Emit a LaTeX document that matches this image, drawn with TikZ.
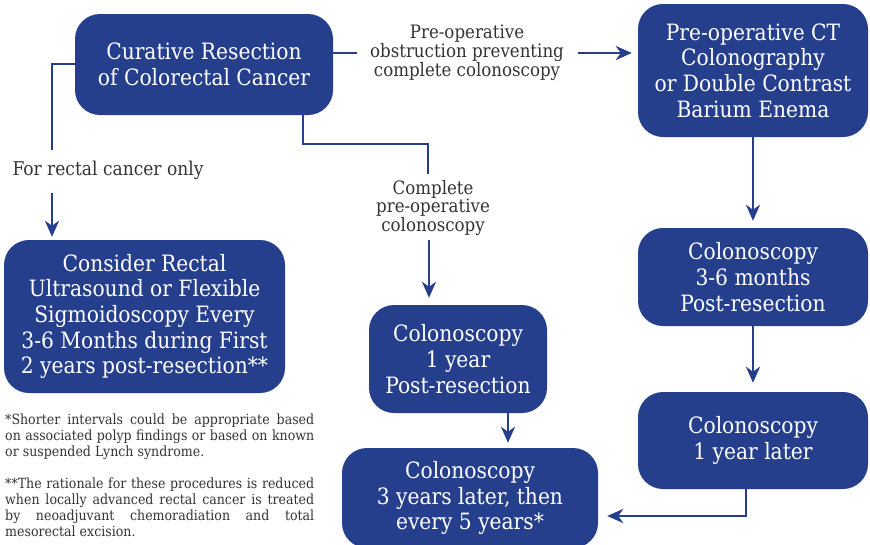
\documentclass[tikz,border=0pt]{standalone}
\usepackage{fontspec}
\setmainfont{DejaVu Serif Condensed}
\usetikzlibrary{arrows.meta}
\definecolor{boxblue}{RGB}{38,63,140}
\definecolor{txtgrey}{RGB}{51,51,51}
\tikzset{
  x=1pt, y=-1pt,
  bluebox/.style={fill=boxblue, rounded corners=25pt, text=white, align=center,
    font=\fontsize{22.5}{25.7}\selectfont, inner sep=0pt},
  lbl/.style={text=txtgrey, align=center, font=\fontsize{18.5}{17}\selectfont, inner sep=0pt},
  conn/.style={draw=boxblue, line width=2.8pt},
  arr/.style={conn, -{Stealth[length=16pt,width=14pt,inset=5pt]}},
}
\begin{document}
\begin{tikzpicture}
\useasboundingbox (0,0) rectangle (870,544);
% boxes
\node[bluebox, minimum width=258pt, minimum height=101pt] (cur) at (204,64.5) {Curative Resection\\of Colorectal Cancer};
\node[bluebox, minimum width=230pt, minimum height=133pt] (ct) at (753,70.5) {Pre-operative CT\\Colonography\\or Double Contrast\\Barium Enema};
\node[bluebox, minimum width=281pt, minimum height=153pt] (rect) at (144.5,316.5) {Consider Rectal\\Ultrasound or Flexible\\Sigmoidoscopy Every\\3-6 Months during First\\2 years post-resection**};
\node[bluebox, minimum width=178pt, minimum height=108pt] (one) at (458,359) {Colonoscopy\\1 year\\Post-resection};
\node[bluebox, minimum width=230pt, minimum height=98pt] (three6) at (753,277) {Colonoscopy\\3-6 months\\Post-resection};
\node[bluebox, minimum width=230pt, minimum height=97pt] (later) at (753,440.5) {Colonoscopy\\1 year later};
\node[bluebox, minimum width=256pt, minimum height=100pt] (five) at (470,498) {Colonoscopy\\3 years later, then\\every 5 years*};
% labels
\node[lbl, font=\fontsize{19}{20}\selectfont] (lrect) at (108,170) {For rectal cancer only};
\node[lbl] (lobs) at (467,53) {Pre-operative\\obstruction preventing\\complete colonoscopy};
\node[lbl] (lcomp) at (433,208) {Complete\\pre-operative\\colonoscopy};
% footnotes
\node[text=txtgrey, text width=309pt, align=justify, inner sep=0pt, anchor=north west,
  font=\fontsize{14}{16}\selectfont] (fn) at (5,414)
  {*Shorter intervals could be appropriate based\linebreak on associated polyp findings or based on known\linebreak or suspended Lynch syndrome.\par\vspace{16pt}
   **The rationale for these procedures is reduced\linebreak when locally advanced rectal cancer is treated\linebreak by neoadjuvant chemoradiation and total\linebreak mesorectal excision.};
% coordinates
\coordinate (a1) at (52,150);
\coordinate (a2) at (52,193);
\coordinate (b1) at (357,53);
\coordinate (b2) at (578,53);
\coordinate (c1) at (428,174);
\coordinate (c2) at (429,240);
% connectors
\draw[conn] (cur.west |- 0,64) -- (52,64) -- (a1);
\draw[arr] (a2) -- ([yshift=3pt]rect.north -| a2);
\draw[conn] (cur.east |- b1) -- (b1);
\draw[arr] (b2) -- ([xshift=-6pt]ct.west |- b2);
\draw[conn] (cur.south -| 303,0) -- (303,144) -- (428,144) -- (c1);
\draw[arr] (c2) -- ([yshift=7pt]one.north -| c2);
\draw[arr] (ct.south) -- ([yshift=7pt]three6.north);
\draw[arr] (three6.south) -- ([yshift=9pt]later.north);
\draw[arr] (one.south -| 508,0) -- ([yshift=5pt]five.north -| 508,0);
\draw[arr] (later.south -| 746,0) -- (746,516) -- ([xshift=9pt]five.east |- 0,516);
\end{tikzpicture}
\end{document}
